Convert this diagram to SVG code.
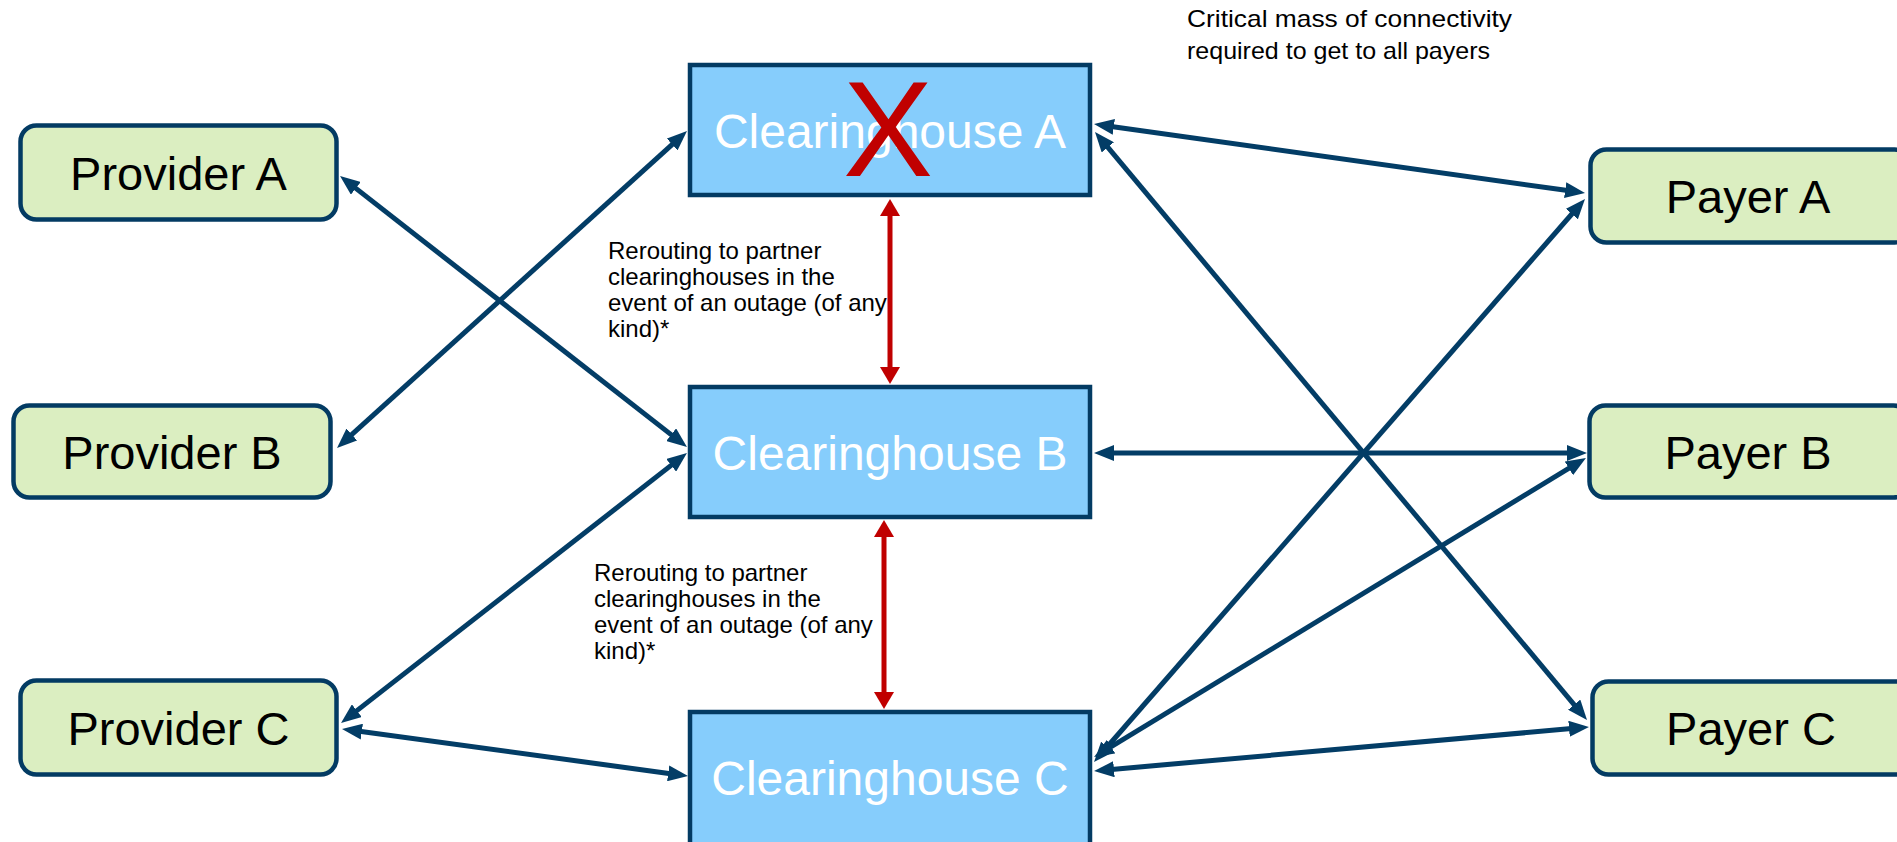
<svg xmlns="http://www.w3.org/2000/svg" width="1897" height="842" viewBox="0 0 1897 842">
<style>
.ent{fill:#dbeec1;stroke:#033b63;stroke-width:4.5}
.ch{fill:#86cdfc;stroke:#033b63;stroke-width:4.5}
.lbl{font-family:"Liberation Sans",Arial,sans-serif;font-size:47px;fill:#000;text-anchor:middle}
.chl{font-family:"Liberation Sans",Arial,sans-serif;font-size:48px;fill:#fff;text-anchor:middle}
.note{font-family:"Liberation Sans",Arial,sans-serif;font-size:24px;fill:#000}
.blue{stroke:#033d66;stroke-width:5;fill:none;marker-start:url(#ab);marker-end:url(#ab)}
.red{stroke:#c00000;stroke-width:5;fill:none;marker-start:url(#ar);marker-end:url(#ar)}
</style>
<defs>
<marker id="ab" markerUnits="userSpaceOnUse" markerWidth="20" markerHeight="16" refX="8" refY="8" orient="auto-start-reverse" viewBox="0 0 20 16">
<path d="M0,0 L20,8 L0,16 z" fill="#033d66"/>
</marker>
<marker id="ar" markerUnits="userSpaceOnUse" markerWidth="17" markerHeight="20" refX="6" refY="10" orient="auto-start-reverse" viewBox="0 0 17 20">
<path d="M0,0 L17,10 L0,20 z" fill="#c00000"/>
</marker>
</defs>
<rect width="1897" height="842" fill="#fff"/>
<g id="connectors">
<line class="blue" x1="349.5" y1="183.4" x2="677.5" y2="439.6"/>
<line class="blue" x1="345.9" y1="439.9" x2="678.1" y2="139.1"/>
<line class="blue" x1="350.5" y1="715.6" x2="677.5" y2="460.4"/>
<line class="blue" x1="353.9" y1="730.6" x2="676.1" y2="774.4"/>
<line class="blue" x1="1105.9" y1="125.7" x2="1573.1" y2="191.3"/>
<line class="blue" x1="1102.7" y1="141.2" x2="1579.3" y2="710.8"/>
<line class="blue" x1="1106" y1="453" x2="1575" y2="453"/>
<line class="blue" x1="1101.9" y1="753" x2="1577.1" y2="208"/>
<line class="blue" x1="1104.3" y1="750.8" x2="1575.7" y2="464.2"/>
<line class="blue" x1="1106" y1="769.9" x2="1577" y2="728.1"/>
<line class="red" x1="890" y1="210" x2="890" y2="373"/>
<line class="red" x1="884" y1="531" x2="884" y2="698"/>
</g>
<g id="providerA"><rect class="ent" x="20.5" y="125.5" width="316" height="94" rx="16"/><text class="lbl" x="178.5" y="190">Provider A</text></g>
<g id="providerB"><rect class="ent" x="13.5" y="405.5" width="317" height="92" rx="16"/><text class="lbl" x="172" y="469">Provider B</text></g>
<g id="providerC"><rect class="ent" x="20.5" y="680.5" width="316" height="94" rx="16"/><text class="lbl" x="178.5" y="745">Provider C</text></g>
<g id="clearinghouseA"><rect class="ch" x="690" y="65" width="400" height="130"/><text class="chl" x="890" y="148">Clearinghouse A</text>
<text x="888" y="176" font-family="Liberation Sans, Arial, sans-serif" font-size="135" fill="#c00000" text-anchor="middle">X</text></g>
<g id="clearinghouseB"><rect class="ch" x="690" y="387" width="400" height="130"/><text class="chl" x="890" y="470">Clearinghouse B</text></g>
<g id="clearinghouseC"><rect class="ch" x="690" y="712" width="400" height="134"/><text class="chl" x="890" y="795">Clearinghouse C</text></g>
<g id="payerA"><rect class="ent" x="1590.5" y="149.5" width="320" height="93" rx="16"/><text class="lbl" x="1748" y="213">Payer A</text></g>
<g id="payerB"><rect class="ent" x="1589.5" y="405.5" width="320" height="92" rx="16"/><text class="lbl" x="1748" y="469">Payer B</text></g>
<g id="payerC"><rect class="ent" x="1592.5" y="681.5" width="320" height="93" rx="16"/><text class="lbl" x="1751" y="745">Payer C</text></g>
<g id="notes">
<text class="note" x="608" y="259">Rerouting to partner</text>
<text class="note" x="608" y="285">clearinghouses in the</text>
<text class="note" x="608" y="311">event of an outage (of any</text>
<text class="note" x="608" y="337">kind)*</text>
<text class="note" x="594" y="581">Rerouting to partner</text>
<text class="note" x="594" y="607">clearinghouses in the</text>
<text class="note" x="594" y="633">event of an outage (of any</text>
<text class="note" x="594" y="659">kind)*</text>
<text class="note" x="1187" y="27" font-size="27.5" textLength="325" lengthAdjust="spacingAndGlyphs">Critical mass of connectivity</text>
<text class="note" x="1187" y="59" font-size="27.5" textLength="303" lengthAdjust="spacingAndGlyphs">required to get to all payers</text>
</g>
</svg>
